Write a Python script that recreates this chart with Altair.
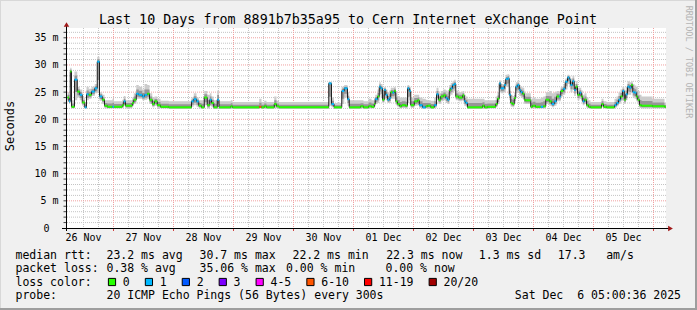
import altair as alt
import pandas as pd

FONT = "DejaVu Sans Mono"
L, T = 66, 28          # plot origin inside the 697x310 canvas
W, H = 600, 200        # plot area
X_DOMAIN = [-0.6, 239.4]   # hours (reading offset), 10 days
Y_MAX = 36.8
FIRST_MIDNIGHT = 18.4

# ---------------- data ----------------
hours = [0.0, 0.6, 1.1, 1.6, 2.8, 3.9, 4.9, 5.9, 6.9, 7.6, 8.5, 9.6, 10.9, 11.9, 12.8, 13.9, 14.8, 15.9, 18.0, 18.6,
         21.9, 22.5, 23.2, 25.9, 26.5, 27.5, 28.5, 29.9, 30.8, 31.9, 32.8, 33.9, 34.8, 35.9, 37.2, 40.5,
         49.6, 50.5, 51.6, 52.5, 53.6, 54.7, 55.9, 56.9, 57.6, 58.5, 59.9, 60.6, 65.3, 66.0, 76.7, 77.6, 78.7, 79.6, 82.7, 83.6, 84.6,
         104.5, 105.6, 106.6, 109.7, 110.7, 112.0, 112.7, 117.2, 118.4, 120.4, 121.6, 122.7, 123.1, 124.0, 124.7,
         125.3, 126.0, 126.7, 127.3, 128.0, 128.7, 129.3, 130.0, 130.7, 131.3, 132.0, 132.9, 133.7, 135.2, 136.0,
         136.7, 137.3, 138.7, 140.0, 140.7, 142.0, 143.3, 144.0, 145.3,
         146.7, 147.6, 148.4, 149.3, 150.3, 151.3, 152.0, 152.7, 153.3, 154.0, 154.7, 155.3, 156.4, 158.0, 158.7,
         159.3, 160.0, 166.0, 166.8, 168.0, 171.3, 172.0, 172.7, 173.3, 174.7, 175.3, 176.0, 176.7, 177.3, 178.0,
         178.7, 179.3, 180.0, 180.7, 181.3, 182.0, 182.7, 183.2, 185.3, 186.0, 187.2, 189.3, 190.3,
         191.3, 192.7, 193.7, 194.7, 195.6, 196.7, 197.3, 198.3, 199.1, 200.0, 200.7, 201.2, 202.0, 202.7, 203.3,
         204.0, 204.8, 205.5, 206.1, 206.8, 207.6, 208.4, 209.2, 213.6, 214.4, 215.6, 218.8, 219.6, 220.4, 221.2,
         222.0, 222.7, 223.3, 224.0, 224.8, 225.5, 226.1, 226.8, 227.5, 228.1, 228.8, 229.6, 234.0, 238.8]

median_ms = [24.0, 23.3, 28.8, 22.3, 27.3, 25.1, 24.5, 23.1, 22.2, 24.6, 24.5, 25.1, 25.7, 30.6, 24.2, 23.6, 22.5, 22.3, 22.3, 22.3,
             22.6, 23.3, 22.5, 23.0, 23.6, 24.7, 24.5, 24.2, 24.5, 24.7, 23.6, 22.8, 23.3, 22.6, 22.3, 22.2,
             23.3, 23.7, 23.3, 22.5, 22.2, 24.0, 22.6, 23.6, 23.0, 22.2, 23.6, 22.2, 22.4, 22.2, 22.3, 22.2, 22.4, 22.2, 22.8, 22.4, 22.2,
             26.6, 22.8, 22.2, 25.2, 25.7, 23.7, 22.2, 22.4, 22.2, 22.4, 22.3, 22.8, 23.7, 24.2, 26.0,
             25.7, 23.6, 25.4, 24.5, 23.6, 23.9, 25.0, 24.9, 25.2, 23.3, 22.8, 22.4, 22.6, 22.5, 25.7,
             25.2, 22.6, 23.3, 23.5, 22.6, 22.2, 22.4, 22.5, 22.2,
             22.6, 24.6, 23.6, 24.2, 24.4, 23.9, 23.6, 25.4, 25.7, 26.3, 26.5, 24.2, 24.0, 24.4, 23.3,
             23.0, 22.2, 22.5, 22.2, 22.3, 22.8, 23.8, 26.6, 25.7, 26.3, 27.4, 27.5, 24.5, 23.0, 22.8,
             23.9, 26.0, 26.3, 25.4, 25.0, 24.7, 23.6, 23.5, 22.3, 22.5, 22.3, 22.3, 22.4,
             23.6, 23.3, 22.8, 23.3, 24.2, 24.2, 25.2, 25.6, 26.9, 27.7, 27.3, 26.3, 27.0, 25.4, 26.0,
             24.5, 24.9, 24.2, 23.3, 23.6, 22.6, 22.3, 22.2, 22.8, 22.3, 22.2, 22.6, 23.0, 23.6, 24.2,
             25.2, 23.6, 24.6, 26.0, 25.8, 26.3, 25.0, 24.9, 24.2, 23.6, 22.6, 22.5, 22.4, 22.3]

# loss category index into loss_labels (0 -> "0", 1 -> "1", 5 -> "6-10")
loss_idx = [0, 1, 0, 0, 1, 0, 1, 0, 1, 1, 0, 1, 1, 1, 1, 0, 0, 0, 1, 0,
            0, 1, 0, 0, 0, 1, 1, 1, 1, 0, 0, 0, 0, 0, 0, 0,
            1, 1, 1, 0, 0, 0, 0, 1, 0, 0, 1, 0, 0, 0, 5, 0, 0, 0, 0, 0, 0,
            1, 1, 0, 1, 1, 1, 0, 0, 0, 0, 0, 0, 1, 0, 1,
            1, 0, 1, 1, 1, 1, 0, 1, 0, 0, 0, 0, 0, 0, 1,
            1, 0, 0, 0, 1, 1, 0, 0, 0,
            1, 1, 0, 0, 0, 1, 1, 0, 1, 1, 1, 0, 0, 0, 1,
            1, 0, 0, 0, 0, 0, 0, 1, 1, 1, 1, 1, 1, 0, 0,
            0, 1, 1, 1, 1, 0, 0, 0, 0, 0, 0, 1, 0,
            0, 0, 1, 1, 0, 1, 0, 1, 1, 1, 1, 1, 1, 1, 0,
            0, 1, 0, 1, 0, 0, 0, 0, 0, 0, 0, 1, 1, 1, 0,
            1, 0, 1, 1, 1, 0, 1, 1, 0, 0, 0, 0, 0, 0]

smoke_hi = [25.0, 24.5, 29.5, 23.5, 28.8, 26.0, 25.5, 24.0, 23.2, 26.0, 25.6, 26.0, 26.5, 31.5, 25.0, 24.5, 23.5, 23.5, 23.8, 23.3,
            23.6, 24.3, 23.5, 24.0, 24.8, 26.3, 26.0, 25.5, 26.5, 26.3, 24.8, 24.0, 24.2, 23.8, 23.4, 23.3,
            24.0, 24.8, 24.0, 23.5, 23.5, 25.2, 24.5, 24.8, 24.2, 23.5, 25.3, 23.3, 23.5, 23.2, 23.8, 23.2, 23.4, 23.2, 24.2, 23.4, 23.2,
            26.9, 24.0, 23.0, 26.0, 26.3, 25.0, 23.5, 23.5, 23.3, 23.8, 23.5, 24.0, 24.5, 25.5, 26.8,
            26.5, 25.5, 26.0, 25.5, 25.0, 25.3, 25.8, 25.8, 26.0, 24.8, 24.3, 24.0, 24.0, 24.0, 26.3,
            26.0, 24.0, 24.5, 24.5, 24.0, 23.8, 23.6, 23.5, 23.4,
            24.0, 25.8, 24.8, 25.2, 25.5, 25.3, 25.0, 26.3, 26.7, 27.0, 27.3, 25.3, 25.0, 25.2, 24.5,
            24.2, 23.8, 23.8, 23.5, 23.5, 24.2, 25.0, 27.2, 26.5, 27.2, 28.2, 28.3, 26.0, 24.5, 24.3,
            25.0, 26.8, 27.0, 26.3, 26.0, 25.8, 25.0, 24.8, 23.8, 24.0, 23.8, 24.0, 24.2,
            25.0, 25.2, 24.8, 25.0, 25.2, 25.0, 26.0, 26.5, 27.5, 28.2, 28.0, 27.5, 28.0, 26.5, 27.0,
            25.8, 25.8, 25.3, 24.5, 24.8, 24.0, 23.5, 23.2, 23.8, 23.3, 23.2, 23.8, 24.2, 25.0, 25.5,
            26.0, 25.3, 26.0, 27.0, 26.8, 27.0, 26.5, 26.2, 26.0, 25.2, 24.5, 24.2, 23.8, 23.0]

smoke_lo = [23.2, 22.8, 24.0, 22.0, 23.5, 24.0, 23.5, 22.5, 21.9, 23.5, 23.8, 24.3, 24.8, 25.0, 23.4, 22.8, 22.0, 22.0, 22.0, 22.0,
            22.1, 22.5, 22.0, 22.4, 22.8, 23.8, 23.8, 23.5, 23.6, 23.8, 22.8, 22.2, 22.5, 22.1, 22.0, 21.9,
            22.3, 22.6, 22.3, 22.0, 21.9, 22.6, 22.0, 22.5, 22.2, 21.9, 22.4, 21.9, 22.0, 21.9, 22.0, 21.9, 22.0, 21.9, 22.1, 22.0, 21.9,
            22.5, 22.2, 21.9, 22.8, 24.0, 22.5, 21.9, 22.0, 21.9, 22.0, 22.0, 22.2, 22.8, 23.0, 24.5,
            24.0, 23.0, 23.8, 23.5, 23.0, 23.0, 23.8, 23.8, 23.8, 22.6, 22.2, 22.0, 22.1, 22.0, 23.0,
            23.5, 22.1, 22.5, 22.6, 22.1, 21.9, 22.0, 22.0, 21.9,
            22.1, 23.5, 22.8, 23.3, 23.5, 23.0, 22.8, 24.3, 24.5, 25.0, 25.2, 23.5, 23.3, 23.5, 22.5,
            22.3, 21.9, 22.0, 21.9, 22.0, 22.2, 22.8, 25.0, 24.8, 25.0, 26.0, 26.0, 23.5, 22.3, 22.2,
            23.0, 24.8, 25.0, 24.3, 24.0, 23.8, 22.8, 22.8, 22.0, 22.0, 22.0, 22.0, 22.0,
            22.8, 22.5, 22.2, 22.5, 23.3, 23.3, 24.2, 24.5, 25.5, 26.5, 26.0, 25.0, 25.5, 24.3, 24.8,
            23.5, 23.8, 23.3, 22.6, 22.8, 22.1, 22.0, 21.9, 22.2, 22.0, 21.9, 22.1, 22.4, 22.8, 23.3,
            23.5, 22.8, 23.5, 24.5, 24.5, 25.0, 24.0, 23.8, 23.3, 22.8, 22.1, 22.0, 22.0, 22.0]

loss_labels = ["0", "1", "2", "3", "4-5", "6-10", "11-19", "20/20"]
loss_colors = ["#26ff00", "#00b8ff", "#0059ff", "#7e00ff", "#ff00ff", "#ff5500", "#ff0000", "#a10000"]

day_labels = ["26 Nov", "27 Nov", "28 Nov", "29 Nov", "30 Nov", "01 Dec", "02 Dec", "03 Dec", "04 Dec", "05 Dec"]
y_ticks = [0, 5, 10, 15, 20, 25, 30, 35]

title_text = "Last 10 Days from 8891b7b35a95 to Cern Internet eXchange Point"
rtt_items = ["median rtt:", "23.2 ms avg", "30.7 ms max", "22.2 ms min", "22.3 ms now", "1.3 ms sd", "17.3", "am/s"]
loss_items = ["packet loss:", "0.38 % avg", "35.06 % max", "0.00 % min", "0.00 % now"]
probe_items = ["probe:", "20 ICMP Echo Pings (56 Bytes) every 300s"]
stamp_text = "Sat Dec\u00a0 6 05:00:36 2025"

# ---------------- tables ----------------
df = pd.DataFrame({"h": hours, "v": median_ms, "hi": smoke_hi, "lo": smoke_lo})
df["loss"] = [loss_labels[i] for i in loss_idx]
df["h2"] = df["h"].shift(-1).fillna(X_DOMAIN[1])
df["in_hi"] = df["v"] + (df["hi"] - df["v"]) * 0.5
df["in_lo"] = df["v"] - (df["v"] - df["lo"]) * 0.6
tail = df.iloc[[-1]].copy()
tail["h"] = X_DOMAIN[1]
dfs = pd.concat([df, tail], ignore_index=True)

midnights = [FIRST_MIDNIGHT + 24 * k for k in range(10)]
minor_x = [FIRST_MIDNIGHT - 12 + 6 * k for k in range(40) if k % 4 != 2]
minor_x = [m for m in minor_x if X_DOMAIN[0] < m < X_DOMAIN[1]]
gx_major = pd.DataFrame({"h": midnights})
gx_minor = pd.DataFrame({"h": minor_x})
gy_major = pd.DataFrame({"v": [5 * k for k in range(1, 8)]})
gy_minor = pd.DataFrame({"v": [k for k in range(1, 37) if k % 5 != 0]})
gy_all = pd.DataFrame({"v": list(range(1, 37))})
days = pd.DataFrame({"h": [FIRST_MIDNIGHT - 12 + 24 * k for k in range(10)], "t": day_labels})
yt = pd.DataFrame({"v": y_ticks[1:], "t": [f"{v} m" for v in y_ticks[1:]]})
yt0 = pd.DataFrame({"v": [0], "t": ["0"]})

xs = alt.Scale(domain=X_DOMAIN, nice=False, zero=False)
ys = alt.Scale(domain=[0, Y_MAX], nice=False, zero=True)
X = lambda f: alt.X(f, type="quantitative", scale=xs, axis=None)
Y = lambda f: alt.Y(f, type="quantitative", scale=ys, axis=None)

one = pd.DataFrame({"d": [0]})


def txt(s, x, y, size=11.5, align="left", color="black", angle=0, baseline="alphabetic"):
    return alt.Chart(one).mark_text(text=s, align=align, baseline=baseline, font=FONT, fontSize=size,
                                    color=color, angle=angle).encode(x=alt.value(x - L), y=alt.value(y - T))


def rule_px(x1, y1, x2, y2, color, w=1.0):
    return alt.Chart(one).mark_rule(color=color, strokeWidth=w).encode(
        x=alt.value(x1 - L), x2=alt.value(x2 - L), y=alt.value(y1 - T), y2=alt.value(y2 - T))


layers = []
# grids
layers.append(alt.Chart(gy_minor).mark_rule(color="#c4c4c4", strokeWidth=1, strokeDash=[1, 1]).encode(y=Y("v")))
layers.append(alt.Chart(gx_minor).mark_rule(color="#c4c4c4", strokeWidth=1, strokeDash=[1, 1]).encode(x=X("h")))
layers.append(alt.Chart(gy_major).mark_rule(color="#f0a0a0", strokeWidth=1, strokeDash=[1, 1]).encode(y=Y("v")))
layers.append(alt.Chart(gx_major).mark_rule(color="#f0a0a0", strokeWidth=1, strokeDash=[1, 1]).encode(x=X("h")))
# smoke
layers.append(alt.Chart(dfs).mark_area(interpolate="step-after", color="#cccccc").encode(x=X("h"), y=Y("hi"), y2="lo"))
layers.append(alt.Chart(dfs).mark_area(interpolate="step-after", color="#969696").encode(x=X("h"), y=Y("in_hi"), y2="in_lo"))
# median
layers.append(alt.Chart(dfs).mark_line(interpolate="step-after", color="#202020", strokeWidth=1).encode(x=X("h"), y=Y("v")))
layers.append(alt.Chart(df).mark_rule(strokeWidth=2).encode(
    x=X("h"), x2="h2", y=Y("v"),
    color=alt.Color("loss:N", scale=alt.Scale(domain=loss_labels, range=loss_colors), legend=None)))
# axis ticks
layers.append(alt.Chart(gy_all).mark_rule(color="#444444", strokeWidth=1).encode(
    y=Y("v"), x=alt.value(-2.5), x2=alt.value(0)))
layers.append(alt.Chart(gx_major).mark_rule(color="#d04040", strokeWidth=1).encode(
    x=X("h"), y=alt.value(H), y2=alt.value(H + 3)))
# axes lines and arrows
layers.append(rule_px(62, 228.5, 669, 228.5, "black"))
layers.append(rule_px(66.5, 25, 66.5, 231, "black"))
layers.append(alt.Chart(one).mark_point(shape="triangle-up", filled=True, size=30, color="#a01818", opacity=1).encode(
    x=alt.value(66.5 - L), y=alt.value(24.5 - T)))
layers.append(alt.Chart(one).mark_point(shape="triangle-right", filled=True, size=30, color="#a01818", opacity=1).encode(
    x=alt.value(670.5 - L), y=alt.value(228.5 - T)))
# tick labels
layers.append(alt.Chart(days).mark_text(font=FONT, fontSize=10, align="center", baseline="alphabetic", color="black").encode(
    x=X("h"), y=alt.value(241 - T), text="t:N"))
layers.append(alt.Chart(yt).mark_text(font=FONT, fontSize=10, align="right", baseline="alphabetic", dy=3.5, color="black").encode(
    x=alt.value(58.5 - L), y=Y("v"), text="t:N"))
layers.append(alt.Chart(yt0).mark_text(font=FONT, fontSize=10, align="right", baseline="alphabetic", dy=3.5, color="black").encode(
    x=alt.value(49.5 - L), y=Y("v"), text="t:N"))
# titles
layers.append(txt(title_text, 348, 24, size=13.35, align="center"))
layers.append(txt("Seconds", 14, 126, size=12, align="center", angle=270))
layers.append(txt("RRDTOOL / TOBI OETIKER", 686, 62, size=8.5, align="center", color="#b4b4b4", angle=90))
# legend lines
rtt_x = [16, 107, 200, 293, 386.7, 479.3, 558.3, 606.7]
for s, x in zip(rtt_items, rtt_x):
    layers.append(txt(s, x - 0.5, 258.5))
loss_x = [16, 107, 200, 286.5, 386]
for s, x in zip(loss_items, loss_x):
    layers.append(txt(s, x - 0.5, 272))
layers.append(txt("loss color:", 15.5, 285.7))
cx = 112.0
for lab, col in zip(loss_labels, loss_colors):
    layers.append(alt.Chart(one).mark_point(shape="square", filled=True, size=52, fill=col, stroke="black",
                                            strokeWidth=1, opacity=1).encode(x=alt.value(cx - L), y=alt.value(282 - T)))
    layers.append(txt(lab, cx + 10.8, 285.7))
    cx += 30 + 6.92 * len(lab)
layers.append(txt(probe_items[0], 15.5, 299.4))
layers.append(txt(probe_items[1], 106.5, 299.4))
layers.append(txt(stamp_text, 681, 299.4, align="right"))
# frame
layers.append(rule_px(0, 0.5, 697, 0.5, "#d8d8d8", 1))
layers.append(rule_px(0.5, 0, 0.5, 310, "#d8d8d8", 1))
layers.append(rule_px(0, 309, 697, 309, "#9e9e9e", 2))
layers.append(rule_px(696, 0, 696, 310, "#9e9e9e", 2))

chart = alt.layer(*layers).properties(
    width=W, height=H,
    autosize=alt.AutoSizeParams(type="none"),
    padding={"left": L, "top": T, "right": 697 - L - W, "bottom": 310 - T - H},
    background="#f0f0f0",
).configure_view(fill="white", stroke=None)

chart.save("out.html", embed_options={"renderer": "svg", "actions": False})
